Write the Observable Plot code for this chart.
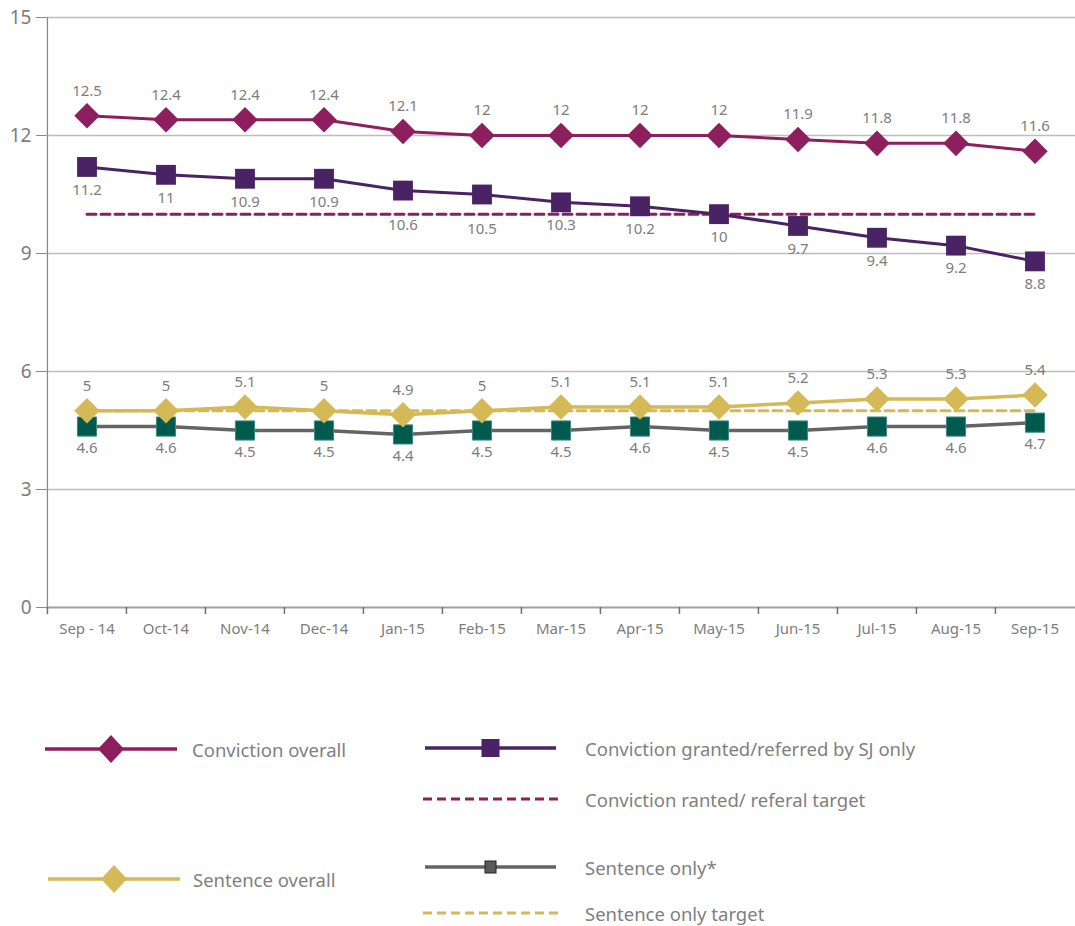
<!DOCTYPE html>
<html><head><meta charset="utf-8">
<script src="https://cdn.jsdelivr.net/npm/d3@7"></script>
<script src="https://cdn.jsdelivr.net/npm/@observablehq/plot@0.6"></script>
<style>
body{margin:0;background:#fff;font-family:"Noto Sans",sans-serif;}
#wrap{position:relative;width:1075px;height:926px;overflow:hidden;}
.leg{position:absolute;height:30px;display:flex;align-items:center;color:#808080;font-size:18.5px;white-space:nowrap;}
.leg svg{display:block;}
</style></head><body><div id="wrap"><div id="chart"></div></div>
<script>
const months = ["Sep - 14","Oct-14","Nov-14","Dec-14","Jan-15","Feb-15","Mar-15","Apr-15","May-15","Jun-15","Jul-15","Aug-15","Sep-15"];
const convictionOverall = [12.5,12.4,12.4,12.4,12.1,12,12,12,12,11.9,11.8,11.8,11.6];
const convictionSJ = [11.2,11,10.9,10.9,10.6,10.5,10.3,10.2,10,9.7,9.4,9.2,8.8];
const convictionTarget = 10;
const sentenceOverall = [5,5,5.1,5,4.9,5,5.1,5.1,5.1,5.2,5.3,5.3,5.4];
const sentenceOnly = [4.6,4.6,4.5,4.5,4.4,4.5,4.5,4.6,4.5,4.5,4.6,4.6,4.7];
const sentenceTarget = 5;
const yTicks = [0,3,6,9,12,15];
const seriesNames = ["Conviction overall","Conviction granted/referred by SJ only","Conviction ranted/ referal target","Sentence overall","Sentence only*","Sentence only target"];

const C_CO = "#8e1f5e", C_SJ = "#4a2365", C_SO = "#d4b956", C_GRAY = "#646464", C_TEAL = "#005a4d";
const rows = months.map((m,i)=>({month:m, co:convictionOverall[i], sj:convictionSJ[i], ct:convictionTarget, so:sentenceOverall[i], sn:sentenceOnly[i], st:sentenceTarget}));

const W = 1075, ML = 46, MR = 0;
const bw = (W - ML - MR) / months.length;
const lbl = {fill:"#7d7d7d", fontSize:15};
// SJ labels that would sit on the dashed target line are pushed further down
const hitsTarget = d => Math.abs(d.sj - 0.6 - convictionTarget) < 0.25;

const chart = Plot.plot({
  width: W, height: 650,
  marginLeft: ML, marginRight: MR, marginTop: 17, marginBottom: 43,
  style: {fontFamily:"Noto Sans, sans-serif", background:"white"},
  x: {type:"band", domain: months, padding: 0, label: null},
  y: {domain:[0,15], label: null},
  marks: [
    Plot.ruleY(yTicks.filter(d=>d>0), {stroke:"#bdbdbd", strokeWidth:1.3}),
    Plot.ruleY([0], {stroke:"#a0a0a0", strokeWidth:2}),
    Plot.ruleX([months[0]], {y1:0, y2:15, dx:-bw/2, stroke:"#8a8a8a", strokeWidth:1.3}),
    Plot.axisY(yTicks, {tickSize:10, tickPadding:5, fontSize:19, fill:"#7d7d7d", stroke:"#8a8a8a", label:null}),
    Plot.axisX({tickSize:0, tickPadding:16, fontSize:15, fill:"#7d7d7d", label:null}),
    Plot.axisX({tickSize:7, tickFormat:()=>"", dx:-bw/2, stroke:"#707070", strokeWidth:1.5, label:null}),
    // targets
    Plot.line(rows, {x:"month", y:"ct", stroke:C_CO, strokeWidth:3, strokeDasharray:"9,5"}),
    Plot.line(rows, {x:"month", y:"st", stroke:C_SO, strokeWidth:3, strokeDasharray:"9,5"}),
    // series lines
    Plot.line(rows, {x:"month", y:"co", stroke:C_CO, strokeWidth:3}),
    Plot.line(rows, {x:"month", y:"sj", stroke:C_SJ, strokeWidth:3}),
    Plot.line(rows, {x:"month", y:"sn", stroke:C_GRAY, strokeWidth:3.5}),
    Plot.line(rows, {x:"month", y:"so", stroke:C_SO, strokeWidth:3.5}),
    // markers
    Plot.dot(rows, {x:"month", y:"co", symbol:"diamond2", r:11.5, fill:C_CO, stroke:"none"}),
    Plot.dot(rows, {x:"month", y:"sj", symbol:"square", r:11.2, fill:C_SJ, stroke:"none"}),
    Plot.dot(rows, {x:"month", y:"sn", symbol:"square", r:10.8, fill:C_TEAL, stroke:"#3d8a7d", strokeWidth:1}),
    Plot.dot(rows, {x:"month", y:"so", symbol:"diamond2", r:11.5, fill:C_SO, stroke:"none"}),
    // labels
    Plot.text(rows, {x:"month", y:"co", text:d=>String(d.co), dy:-25, ...lbl}),
    Plot.text(rows, {filter:d=>!hitsTarget(d), x:"month", y:"sj", text:d=>String(d.sj), dy:23, ...lbl}),
    Plot.text(rows, {filter:hitsTarget, x:"month", y:"sj", text:d=>String(d.sj), dy:35, ...lbl}),
    Plot.text(rows, {x:"month", y:"so", text:d=>String(d.so), dy:-25, ...lbl}),
    Plot.text(rows, {x:"month", y:"sn", text:d=>String(d.sn), dy:22, ...lbl})
  ]
});
document.getElementById("chart").appendChild(chart);

// Legend (HTML below the SVG)
const wrap = document.getElementById("wrap");
function swatch(kind, color, w) {
  const h = 30, cy = 15, cx = w/2;
  let s = `<svg width="${w}" height="${h}">`;
  if (kind === "dash") {
    s += `<line x1="0" x2="${w}" y1="${cy}" y2="${cy}" stroke="${color}" stroke-width="3" stroke-dasharray="9,5"/>`;
  } else {
    s += `<line x1="0" x2="${w}" y1="${cy}" y2="${cy}" stroke="${color}" stroke-width="3.5"/>`;
    if (kind === "diamond") s += `<path d="M${cx},${cy-14}L${cx+13},${cy}L${cx},${cy+14}L${cx-13},${cy}Z" fill="${color}"/>`;
    if (kind === "square") s += `<rect x="${cx-9}" y="${cy-9}" width="18" height="18" fill="${C_SJ}"/>`;
    if (kind === "small") s += `<rect x="${cx-5.5}" y="${cy-6}" width="11" height="12" fill="#5a5a5a" stroke="#222" stroke-width="1"/>`;
  }
  return s + `</svg>`;
}
const legendItems = [
  {name: seriesNames[0], kind:"diamond", color:C_CO, left:45, top:734, w:132, gap:15},
  {name: seriesNames[1], kind:"square", color:C_SJ, left:425, top:733, w:131, gap:29},
  {name: seriesNames[2], kind:"dash", color:C_CO, left:423, top:784, w:137, gap:25},
  {name: seriesNames[3], kind:"diamond", color:C_SO, left:48, top:864, w:132, gap:13},
  {name: seriesNames[4], kind:"small", color:C_GRAY, left:425, top:852, w:131, gap:29},
  {name: seriesNames[5], kind:"dash", color:C_SO, left:423, top:898, w:137, gap:25}
];
for (const it of legendItems) {
  const d = document.createElement("div");
  d.className = "leg";
  d.style.left = it.left + "px";
  d.style.top = it.top + "px";
  d.innerHTML = swatch(it.kind, it.color, it.w) + `<span style="margin-left:${it.gap}px">${it.name}</span>`;
  wrap.appendChild(d);
}
</script>
</body></html>
